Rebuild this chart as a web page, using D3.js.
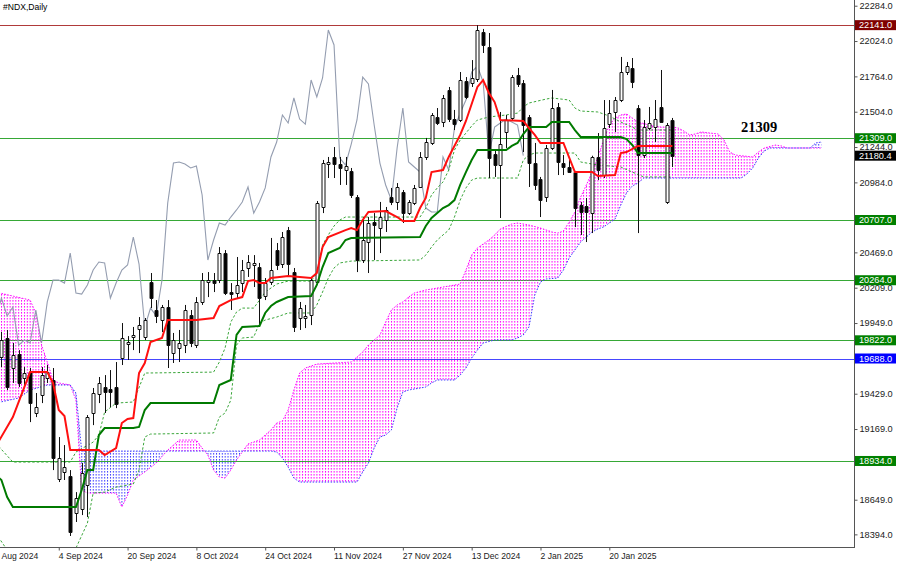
<!DOCTYPE html>
<html><head><meta charset="utf-8">
<script src="https://cdn.jsdelivr.net/npm/d3@7/dist/d3.min.js"></script>
<style>html,body{margin:0;padding:0;background:#fff;}svg{display:block;font-family:"Liberation Sans",Arial,sans-serif;}</style>
</head><body>
<svg id="chart" width="900" height="564"></svg>
<script>
// ---------- DATA ----------
// Daily bars from 21 Aug 2024 (index 0) to 4 Feb 2025 (index 117)
const open = [19699,19839,19618,19721,19544,19588,19287,19419,19544,19530,
18801,18853,18823,18551,18580,18757,19287,19427,19478,19463,
19478,19691,19794,19846,19905,19846,20251,20045,19971,20067,
19728,19765,19787,20008,19787,20104,20251,20265,20265,20464,
20177,20170,20243,20354,20376,20361,20148,20251,20486,20383,
20633,20324,19986,19986,20008,20251,20803,21119,21171,21119,
21075,21068,20876,20413,20545,20692,20648,20707,20876,20840,
20913,20758,20832,20950,21171,21274,21465,21428,21664,21450,
21443,21730,21715,21745,22091,21980,21193,21112,21355,21458,
21774,21715,21465,21126,21009,20876,21237,21539,21126,21097,
21060,20817,20810,20758,21171,21038,21413,21502,21590,21796,
21826,21531,21185,21384,21391,21539,20840,21443];
const high = [19883,19898,19802,19750,19625,19618,19434,19625,19640,19618,
19110,19051,18867,18705,18919,19272,19471,19552,19566,19603,
19662,19949,19853,19920,19993,19986,20317,20118,20082,20118,
19876,19898,20082,20045,20140,20317,20324,20317,20508,20486,
20243,20435,20413,20449,20449,20391,20280,20575,20538,20619,
20656,20354,20104,20082,20288,20847,21149,21171,21244,21171,
21171,21090,20891,20729,20729,20758,20840,20803,20943,20979,
20928,20854,20965,21207,21311,21494,21531,21627,21686,21517,
21796,21759,21884,22141,22113,22083,21215,21502,21480,21774,
21826,21737,21480,21274,21024,21259,21664,21568,21185,21149,
21068,20840,20869,21180,21347,21590,21590,21612,21907,21870,
21899,21553,21443,21539,21590,21811,21421,21458];
const low = [19625,19456,19508,19478,19478,19220,19257,19360,19508,18867,
18779,18794,18382,18485,18536,18521,19198,19360,19287,19331,
19323,19640,19677,19750,19728,19824,20059,19949,19883,19618,
19655,19662,19728,19772,19765,20082,20140,20177,20243,20155,
20045,20133,20177,20288,20214,19934,20118,20229,20339,20354,
20288,19883,19898,19912,19934,20229,20758,21016,21016,20965,
20965,20869,20324,20391,20317,20413,20464,20619,20817,20781,
20685,20744,20817,20943,21149,21259,21406,21391,21428,21369,
21428,21597,21686,21723,21936,21016,21024,20722,21237,21443,
21686,21207,20950,20928,20729,20840,21222,21038,21038,21053,
20655,20597,20545,20611,21001,21016,21384,21355,21575,21774,
21678,20611,21163,21369,21281,21421,20825,21097];
const close = [19824,19478,19714,19508,19581,19360,19331,19566,19588,18956,
18956,18889,18411,18661,18845,19257,19434,19508,19441,19441,
19353,19839,19809,19861,19934,19971,20133,20001,20067,19787,
19824,19802,20045,19802,20104,20265,20265,20243,20464,20170,
20162,20229,20339,20398,20391,20133,20243,20339,20376,20582,
20383,19920,20059,20001,20265,20832,21126,21134,21119,21090,
21104,20891,20413,20560,20685,20670,20729,20781,20840,20950,
20758,20840,20943,21171,21281,21480,21421,21605,21450,21413,
21737,21612,21752,22105,21995,21163,21112,21266,21443,21759,
21708,21406,21126,20965,20854,21237,21531,21134,21097,21060,
20795,20766,20766,21171,21075,21384,21494,21590,21796,21840,
21723,21185,21391,21421,21450,21428,21406,21180.4];

// Ichimoku lines, read as [bar index, price] points
const tenkan = [[-1,19040],[2,19257],[4,19478],[5,19588],[8,19588],[9,19508],[10,19309],[11,19265],[12,19014],[17,19014],[18,18978],[20,19029],[21,19213],[22,19243],[23,19250],[24,19581],[25,19655],[26,19809],[28,19839],[29,19971],[34,19971],[37,19986],[38,20074],[40,20118],[42,20140],[43,20258],[44,20265],[45,20243],[46,20243],[47,20280],[50,20295],[54,20280],[55,20317],[56,20508],[57,20582],[60,20633],[61,20648],[62,20633],[63,20707],[64,20766],[67,20773],[69,20729],[70,20700],[72,20700],[73,20795],[74,20869],[75,21060],[77,21075],[78,21171],[80,21333],[81,21436],[83,21686],[84,21737],[85,21642],[86,21575],[87,21443],[91,21436],[92,21384],[93,21333],[94,21274],[98,21274],[100,21060],[103,21060],[104,21031],[107,21038],[108,21200],[109,21207],[111,21252],[117,21252]];
const kijun = [[-1,18830],[0,18794],[1,18669],[2,18595],[13,18595],[14,18720],[15,18867],[16,18867],[17,19125],[18,19176],[23,19176],[24,19184],[25,19309],[26,19360],[37,19360],[38,19493],[40,19530],[41,19861],[42,19920],[45,19927],[46,20023],[47,20074],[48,20104],[50,20140],[54,20148],[55,20229],[56,20361],[57,20464],[59,20501],[60,20560],[61,20575],[73,20582],[74,20663],[75,20722],[76,20758],[77,20795],[78,20817],[79,20854],[80,20965],[81,21060],[82,21149],[83,21222],[88,21222],[89,21252],[90,21274],[91,21340],[92,21391],[95,21391],[96,21428],[99,21428],[100,21369],[101,21318],[108,21318],[109,21303],[110,21259],[111,21200],[117,21200]];
const bandUpper = [[-1,19066],[2,18926],[12,18926],[13,19000],[16,19073],[17,19125],[18,19294],[20,19360],[23,19368],[25,19581],[37,19588],[38,19662],[39,19765],[40,19956],[41,20030],[42,20059],[44,20059],[45,20118],[46,20177],[48,20236],[50,20258],[54,20258],[55,20317],[56,20523],[57,20597],[58,20663],[59,20707],[60,20729],[73,20729],[74,20795],[75,20891],[76,20943],[77,20987],[78,21075],[79,21222],[80,21296],[81,21347],[82,21399],[83,21443],[85,21465],[88,21480],[90,21494],[91,21539],[92,21568],[95,21597],[96,21605],[99,21590],[100,21531],[101,21509],[104,21502],[106,21472],[108,21428],[110,21391],[111,21369],[117,21369]];
const bandLower = [[-1,18404],[1,18279],[12,18279],[13,18293],[15,18477],[16,18698],[18,18705],[20,18742],[23,18764],[24,18867],[25,19110],[26,19132],[37,19140],[38,19257],[39,19287],[40,19382],[41,19787],[42,19839],[44,19846],[45,19949],[46,19971],[48,19993],[50,20023],[54,20023],[55,20082],[56,20177],[57,20280],[58,20354],[59,20391],[61,20405],[73,20413],[74,20449],[75,20508],[76,20560],[77,20597],[78,20633],[79,20729],[80,20854],[81,20943],[82,21001],[83,21016],[90,21016],[91,21149],[92,21185],[93,21200],[100,21200],[101,21134],[104,21112],[108,21097],[110,21060],[112,21024],[117,21024]];
const spanA = [[-1,20177],[5,20118],[6,20023],[7,19787],[8,19662],[9,19530],[10,19508],[12,19493],[13,19382],[14,18720],[15,18698],[20,18698],[21,18595],[22,18683],[23,18794],[25,18853],[27,18919],[29,19014],[31,19088],[34,19088],[35,19029],[36,18978],[37,18867],[38,18816],[39,18808],[40,18867],[41,18941],[42,19000],[43,19059],[45,19088],[47,19162],[48,19213],[49,19228],[50,19309],[51,19456],[52,19581],[53,19618],[55,19647],[61,19662],[63,19736],[64,19787],[65,19824],[66,19861],[67,19956],[68,20045],[69,20082],[70,20104],[71,20140],[72,20170],[74,20192],[78,20221],[80,20236],[81,20339],[82,20449],[83,20501],[85,20560],[86,20597],[87,20641],[89,20678],[90,20685],[92,20670],[94,20648],[96,20619],[97,20611],[98,20626],[99,20692],[100,20766],[101,20876],[102,20965],[103,21060],[104,21171],[105,21296],[106,21406],[107,21458],[108,21480],[109,21487],[110,21458],[111,21428],[113,21406],[115,21391],[117,21391],[118,21384],[119,21362],[120,21333],[121,21340],[122,21355],[125,21340],[126,21296],[127,21207],[128,21185],[131,21171],[132,21207],[133,21237],[135,21259],[136,21252],[137,21237],[143,21237]];
const spanB = [[-1,19360],[3,19397],[5,19456],[8,19493],[12,19493],[13,19434],[14,19007],[47,19007],[48,19000],[49,18956],[50,18889],[51,18808],[52,18779],[62,18779],[63,18853],[64,18919],[65,19029],[66,19110],[67,19125],[68,19162],[69,19323],[70,19441],[71,19456],[74,19478],[75,19508],[76,19530],[79,19530],[80,19566],[81,19618],[82,19691],[83,19750],[84,19802],[86,19824],[89,19824],[90,19839],[91,19861],[92,19920],[93,20155],[94,20251],[95,20273],[97,20280],[98,20339],[99,20427],[100,20486],[101,20545],[102,20582],[103,20619],[104,20641],[105,20656],[106,20685],[107,20714],[108,20817],[109,20906],[110,20957],[111,20979],[112,21016],[129,21016],[130,21046],[131,21090],[132,21163],[133,21215],[134,21237],[141,21237],[142,21274],[143,21281]];

// axis data
const dateTickBars = [-2,10,22,34,46,58,70,82,94,106];
const dateTickLabels = ["19 Aug 2024","4 Sep 2024","20 Sep 2024","8 Oct 2024","24 Oct 2024","11 Nov 2024","27 Nov 2024","13 Dec 2024","2 Jan 2025","20 Jan 2025"];
const priceTicks = [22284,22024,21764,21504,21244,20984,20724,20469,20209,19949,19429,19169,18649,18394];
const levels = [22141,21309,20707,20264,19822,19688,18934];
const lastPrice = 21180.4;
const annotation = "21309";
const title = "#NDX,Daily";

// ---------- STYLE ----------
const levelLine = ["#b03a3a","#36a836","#36a836","#36a836","#36a836","#4646ff","#36a836"];
const levelTag  = ["#800000","#008000","#008000","#008000","#008000","#0000ff","#008000"];
const PR = 854, PB = 547;

const svg = d3.select("#chart");
const x = d3.scaleLinear().domain([0, 150]).range([1.4, 1.4 + 150 * 5.735]);
const y = d3.scaleLinear().domain([18301, 22326]).range([PB, 0]);

const defs = svg.append("defs");
defs.append("clipPath").attr("id","plotClip").append("rect").attr("x",0).attr("y",0).attr("width",PR).attr("height",PB);
function hatch(id, color){
  const p = defs.append("pattern").attr("id",id).attr("patternUnits","userSpaceOnUse")
    .attr("x", Math.round(x(0))).attr("y",0).attr("width",5.735/2).attr("height",3);
  p.append("rect").attr("x",0).attr("y",0).attr("width",1).attr("height",1.6).attr("fill",color);
}
hatch("hatchA","#ff00ff");
hatch("hatchB","#3b3bff");
const aboveB = d3.area().x(d=>x(d[0])).y0(0).y1(d=>y(d[1]));
const belowB = d3.area().x(d=>x(d[0])).y0(PB).y1(d=>y(d[1]));
defs.append("clipPath").attr("id","clipAbove").append("path").attr("d", aboveB(spanB));
defs.append("clipPath").attr("id","clipBelow").append("path").attr("d", belowB(spanB));

svg.append("rect").attr("width",900).attr("height",564).attr("fill","#fff");
const plot = svg.append("g").attr("clip-path","url(#plotClip)");

const line = d3.line().x(d=>x(d[0])).y(d=>y(d[1]));

// horizontal levels
plot.selectAll("line.level").data(levels).join("line")
  .attr("x1",0).attr("x2",PR).attr("y1",d=>Math.round(y(d))+0.5).attr("y2",d=>Math.round(y(d))+0.5)
  .attr("stroke",(d,i)=>levelLine[i]).attr("stroke-width",1.2);

// cloud
const cloudD = line(spanA) + line(spanB.slice().reverse()).replace(/^M/,"L") + "Z";
plot.append("g").attr("clip-path","url(#clipAbove)").append("path").attr("d",cloudD).attr("fill","url(#hatchA)");
plot.append("g").attr("clip-path","url(#clipBelow)").append("path").attr("d",cloudD).attr("fill","url(#hatchB)");
plot.append("path").attr("d",line(spanA)).attr("fill","none").attr("stroke","#ff00ff").attr("stroke-width",1).attr("stroke-dasharray","1.5,1.5");
plot.append("path").attr("d",line(spanB)).attr("fill","none").attr("stroke","#3b3bff").attr("stroke-width",1).attr("stroke-dasharray","1.5,1.5");

// chikou (close shifted back 26 bars)
const chikou = close.map((c,i)=>[i-26,c]).filter(p=>p[0]>=-2);
plot.append("path").attr("d",line(chikou)).attr("fill","none").attr("stroke","#949db0").attr("stroke-width",1.1);

// dashed bands
[bandUpper, bandLower].forEach(b=>{
  plot.append("path").attr("d",line(b)).attr("fill","none").attr("stroke","#3aa63a").attr("stroke-width",1).attr("stroke-dasharray","2.5,2");
});

// candles
const bars = open.map((o,i)=>({i,o,h:high[i],l:low[i],c:close[i]}));
const cg = plot.append("g");
cg.selectAll("line.wick").data(bars).join("line")
  .attr("x1",d=>Math.round(x(d.i))+0.5).attr("x2",d=>Math.round(x(d.i))+0.5)
  .attr("y1",d=>y(d.h)).attr("y2",d=>y(d.l)).attr("stroke","#111").attr("stroke-width",1);
cg.selectAll("path.body").data(bars).join("path")
  .attr("d",d=>{
    const xc = Math.round(x(d.i))+0.5, x0 = xc-1.5, x1 = xc+1.5;
    const t = Math.round(y(Math.max(d.o,d.c)))+0.5, b = Math.round(y(Math.min(d.o,d.c)))+0.5;
    return `M${x0},${t}H${x1}V${b}H${x0}Z`;
  })
  .attr("fill",d=>d.c>=d.o?"#fff":"#000").attr("stroke","#111").attr("stroke-width",1);

// kijun and tenkan
plot.append("path").attr("d",line(kijun)).attr("fill","none").attr("stroke","#007a00").attr("stroke-width",2);
plot.append("path").attr("d",line(tenkan)).attr("fill","none").attr("stroke","#ff1010").attr("stroke-width",2);

// annotation
svg.append("text").attr("x",741).attr("y",132).text(annotation)
  .attr("font-family","'Liberation Serif','Times New Roman',serif").attr("font-weight","bold").attr("font-size",14.5).attr("fill","#000");

// title
svg.append("text").attr("x",3).attr("y",9.5).text(title).attr("font-size",8.6).attr("fill","#000");

// frame
svg.append("line").attr("x1",PR+0.5).attr("x2",PR+0.5).attr("y1",0).attr("y2",PB+1).attr("stroke","#555");
svg.append("line").attr("x1",0).attr("x2",PR+1).attr("y1",PB+0.5).attr("y2",PB+0.5).attr("stroke","#555");

// right axis
const ya = svg.append("g").attr("transform",`translate(${PR+0.5},0)`)
  .call(d3.axisRight(y).tickValues(priceTicks).tickFormat(d=>d.toFixed(1)).tickSize(3).tickSizeOuter(0).tickPadding(2));
ya.select(".domain").remove();
ya.selectAll("line").attr("stroke","#555");
ya.selectAll("text").attr("font-size",9.2).attr("fill","#222").attr("font-family","'Liberation Sans',Arial,sans-serif");

// bottom axis
const xa = svg.append("g").attr("transform",`translate(0,${PB+0.5})`)
  .call(d3.axisBottom(x).tickValues(dateTickBars).tickFormat((d,i)=>dateTickLabels[i]).tickSize(3).tickSizeOuter(0));
xa.select(".domain").remove();
xa.selectAll("line").attr("stroke","#555");
xa.selectAll("text").attr("text-anchor","start").attr("y",11).attr("dy",0).attr("x",-0.5)
  .attr("font-size",8.6).attr("fill","#222").attr("font-family","'Liberation Sans',Arial,sans-serif");

// level tags
const tags = svg.append("g");
levels.forEach((v,i)=>{
  const yy = y(v);
  tags.append("rect").attr("x",PR+1).attr("y",yy-5).attr("width",41).attr("height",10).attr("fill",levelTag[i]);
  tags.append("text").attr("x",PR+5).attr("y",yy).attr("dy","0.34em").text(v.toFixed(1))
    .attr("font-size",9.2).attr("fill","#fff");
});
{
  const yy = y(lastPrice);
  tags.append("rect").attr("x",PR+1).attr("y",yy-5).attr("width",41).attr("height",10).attr("fill","#000");
  tags.append("text").attr("x",PR+5).attr("y",yy).attr("dy","0.34em").text(lastPrice.toFixed(1))
    .attr("font-size",9.2).attr("fill","#fff");
}
</script>
</body></html>
